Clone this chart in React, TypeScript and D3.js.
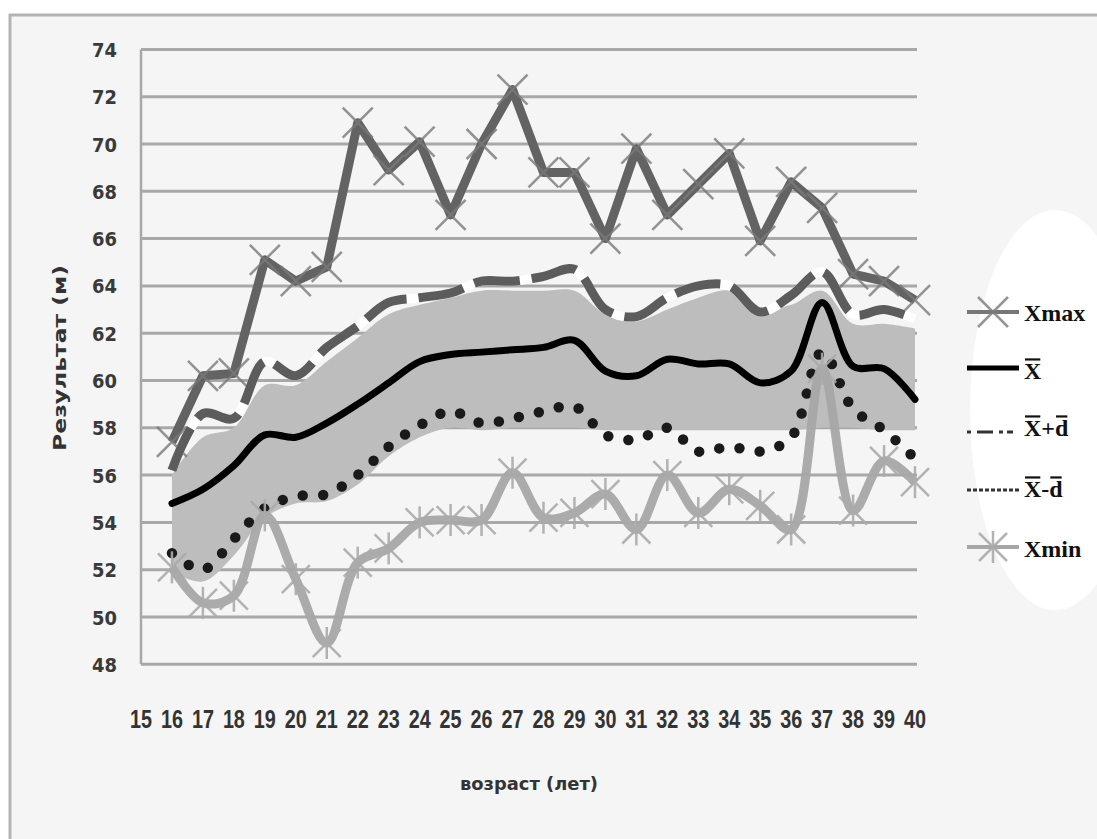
import React from "react";
import * as d3 from "d3";

const ages = [16, 17, 18, 19, 20, 21, 22, 23, 24, 25, 26, 27, 28, 29, 30, 31, 32, 33, 34, 35, 36, 37, 38, 39, 40];
const xTickLabels = [15, 16, 17, 18, 19, 20, 21, 22, 23, 24, 25, 26, 27, 28, 29, 30, 31, 32, 33, 34, 35, 36, 37, 38, 39, 40];
const yTickLabels = [48, 50, 52, 54, 56, 58, 60, 62, 64, 66, 68, 70, 72, 74];

const xMax = [57.4, 60.2, 60.3, 65.1, 64.2, 64.8, 70.9, 68.9, 70.1, 67.0, 70.0, 72.3, 68.8, 68.8, 66.0, 69.8, 67.0, 68.3, 69.6, 65.9, 68.4, 67.3, 64.5, 64.2, 63.4];
const xBar = [54.8, 55.4, 56.4, 57.7, 57.6, 58.2, 59.0, 59.9, 60.8, 61.1, 61.2, 61.3, 61.4, 61.7, 60.4, 60.2, 60.9, 60.7, 60.7, 59.9, 60.4, 63.3, 60.6, 60.5, 59.2];
const xPlusD = [56.2, 58.6, 58.4, 60.8, 60.2, 61.4, 62.3, 63.3, 63.5, 63.7, 64.2, 64.2, 64.4, 64.7, 63.0, 62.7, 63.5, 64.0, 64.0, 62.9, 63.6, 64.6, 62.8, 63.0, 62.6];
const xMinusD = [52.7, 52.0, 53.3, 54.6, 55.1, 55.2, 56.0, 57.2, 58.1, 58.7, 58.2, 58.4, 58.7, 58.9, 57.7, 57.5, 58.0, 57.0, 57.2, 57.0, 57.6, 61.2, 58.8, 57.9, 56.7];
const xMin = [52.1, 50.6, 50.9, 54.3, 51.6, 48.9, 52.3, 52.9, 54.0, 54.1, 54.1, 56.1, 54.2, 54.4, 55.2, 53.7, 56.0, 54.4, 55.4, 54.7, 53.7, 60.5, 54.5, 56.6, 55.7];
const bandTop = [56.0, 57.6, 58.0, 59.8, 59.8, 60.8, 61.8, 62.8, 63.2, 63.5, 63.8, 63.8, 63.8, 63.8, 62.8, 62.5, 63.0, 63.5, 63.8, 63.0, 63.2, 63.8, 62.4, 62.4, 62.2];
const bandBottom = [51.9, 51.5, 52.6, 54.2, 54.8, 54.9, 55.6, 56.8, 57.6, 58.0, 57.9, 58.0, 58.0, 58.0, 57.9, 57.9, 57.9, 57.9, 57.9, 57.9, 57.9, 58.0, 58.0, 57.9, 57.9];

const W = 1097;
const H = 839;

export default function App() {
  const x = d3.scaleLinear().domain([15, 40]).range([141, 915]);
  const y = d3.scaleLinear().domain([48, 74]).range([664.3, 49.4]);

  const smooth = d3.curveCatmullRom.alpha(0.5);
  const lineOf = (vals: number[], curve: d3.CurveFactory = smooth) =>
    d3
      .line<number>()
      .x((_, i) => x(ages[i]))
      .y((v) => y(v))
      .curve(curve)(vals) || "";

  const band =
    d3
      .area<number>()
      .x((_, i) => x(ages[i]))
      .y0((_, i) => y(bandBottom[i]))
      .y1((v) => y(v))
      .curve(smooth)(bandTop) || "";

  const sans = "'DejaVu Sans', Verdana, sans-serif";
  const lib = "'Liberation Sans', Arial, sans-serif";
  const serif = "'Liberation Serif', 'Times New Roman', serif";

  const xMarker = (cx: number, cy: number, k: string) => (
    <g key={k} stroke="#7a7a7a" strokeWidth={2.5} opacity={0.8}>
      <line x1={cx - 15} y1={cy - 15} x2={cx + 15} y2={cy + 15} />
      <line x1={cx - 15} y1={cy + 15} x2={cx + 15} y2={cy - 15} />
    </g>
  );
  const starMarker = (cx: number, cy: number, k: string) => (
    <g key={k} stroke="#ababab" strokeWidth={2.5} opacity={0.9}>
      <line x1={cx - 14} y1={cy - 14} x2={cx + 14} y2={cy + 14} />
      <line x1={cx - 14} y1={cy + 14} x2={cx + 14} y2={cy - 14} />
      <line x1={cx} y1={cy - 16} x2={cx} y2={cy + 16} />
    </g>
  );

  const legX1 = 967;
  const legX2 = 1019;
  const legText = 1024;
  const fs = 24;
  const wX = 0.722 * fs;
  const wPlus = 0.57 * fs;
  const wMinus = 0.333 * fs;
  const wd = 0.556 * fs;

  const overline = (x0: number, w: number, yb: number, k: string) => (
    <rect key={k} x={x0 + 1} y={yb - fs * 0.86} width={w - 2} height={2.2} fill="#111" />
  );

  return (
    <svg
      width={W}
      height={H}
      style={{ position: "absolute", left: 0, top: 0, background: "#ffffff" }}
    >
      <rect x={10} y={15} width={W - 10} height={H - 15} fill="#f5f5f5" />
      <line x1={9} y1={15} x2={W} y2={15} stroke="#b3b3b3" strokeWidth={3} />
      <line x1={10} y1={14} x2={10} y2={H} stroke="#b3b3b3" strokeWidth={3} />

      {/* legend white backdrop */}
      <ellipse cx={1055} cy={410} rx={85} ry={200} fill="#ffffff" />

      {/* gridlines */}
      {yTickLabels.map((v) => (
        <line
          key={"g" + v}
          x1={x(15)}
          x2={x(40) + 2}
          y1={y(v)}
          y2={y(v)}
          stroke="#a8a8a8"
          strokeWidth={3}
        />
      ))}
      <line x1={x(15)} x2={x(15)} y1={y(74)} y2={y(48)} stroke="#a8a8a8" strokeWidth={2.5} />

      {/* y tick labels */}
      {yTickLabels.map((v) => (
        <text
          key={"yl" + v}
          x={117}
          y={y(v) + 7.5}
          textAnchor="end"
          fontFamily={sans}
          fontSize={20}
          fontWeight="bold"
          fill="#3a3a3a"
          textLength={25}
          lengthAdjust="spacingAndGlyphs"
        >
          {v}
        </text>
      ))}

      {/* x tick labels */}
      {xTickLabels.map((v) => (
        <text
          key={"xl" + v}
          x={x(v) - 11}
          y={728}
          fontFamily={lib}
          fontSize={25}
          fontWeight="bold"
          fill="#333"
          textLength={22}
          lengthAdjust="spacingAndGlyphs"
        >
          {v}
        </text>
      ))}

      {/* axis titles */}
      <text
        transform="translate(66,358) rotate(-90)"
        textAnchor="middle"
        fontFamily={sans}
        fontSize={18}
        fontWeight="bold"
        fill="#333"
        textLength={186}
        lengthAdjust="spacingAndGlyphs"
      >
        Результат (м)
      </text>
      <text
        x={529}
        y={790}
        textAnchor="middle"
        fontFamily={sans}
        fontSize={18}
        fontWeight="bold"
        fill="#333"
        textLength={138}
        lengthAdjust="spacingAndGlyphs"
      >
        возраст (лет)
      </text>

      {/* band */}
      <path d={band} fill="#bdbdbd" />

      {/* Xmax */}
      <path d={lineOf(xMax, d3.curveLinear)} fill="none" stroke="#636363" strokeWidth={9} strokeLinejoin="round" />
      {xMax.map((v, i) => xMarker(x(ages[i]), y(v), "xm" + i))}

      {/* X + d */}
      <path d={lineOf(xPlusD)} fill="none" stroke="#ffffff" strokeWidth={9} />
      <path
        d={lineOf(xPlusD)}
        fill="none"
        stroke="#5c5c5c"
        strokeWidth={9}
        strokeDasharray="46 12"
      />

      {/* mean */}
      <path d={lineOf(xBar)} fill="none" stroke="#000" strokeWidth={7} strokeLinecap="round" />

      {/* X - d */}
      <path
        d={lineOf(xMinusD)}
        fill="none"
        stroke="#1a1a1a"
        strokeWidth={10.5}
        strokeLinecap="round"
        strokeDasharray="0 20.5"
      />

      {/* Xmin */}
      <path d={lineOf(xMin)} fill="none" stroke="#a6a6a6" strokeWidth={9} strokeLinejoin="round" opacity={0.95} />
      {xMin.map((v, i) => starMarker(x(ages[i]), y(v), "xn" + i))}

      {/* legend */}
      <g>
        <line x1={legX1} x2={legX2} y1={312} y2={312} stroke="#777" strokeWidth={4} />
        {xMarker((legX1 + legX2) / 2, 312, "lgx")}
        <text x={legText} y={321} fontFamily={serif} fontSize={fs} fontWeight="bold" fill="#111">
          Xmax
        </text>

        <line x1={legX1} x2={legX2} y1={368} y2={368} stroke="#000" strokeWidth={5} />
        <text x={legText} y={379} fontFamily={serif} fontSize={fs} fontWeight="bold" fill="#111">
          X
        </text>
        {overline(legText, wX, 379, "o1")}

        <line x1={legX1} x2={legX2} y1={432} y2={432} stroke="#333" strokeWidth={3} strokeDasharray="4 6 16 6 4" />
        <text x={legText} y={436} fontFamily={serif} fontSize={fs} fontWeight="bold" fill="#111">
          X+d
        </text>
        {overline(legText, wX, 436, "o2")}
        {overline(legText + wX + wPlus, wd, 436, "o3")}

        <line x1={legX1} x2={legX2} y1={490} y2={490} stroke="#333" strokeWidth={3} strokeDasharray="4 2" />
        <text x={legText} y={497} fontFamily={serif} fontSize={fs} fontWeight="bold" fill="#111">
          X-d
        </text>
        {overline(legText, wX, 497, "o4")}
        {overline(legText + wX + wMinus, wd, 497, "o5")}

        <line x1={legX1} x2={legX2} y1={547} y2={547} stroke="#a6a6a6" strokeWidth={4} />
        {starMarker((legX1 + legX2) / 2, 547, "lgn")}
        <text x={legText} y={557} fontFamily={serif} fontSize={fs} fontWeight="bold" fill="#111">
          Xmin
        </text>
      </g>
    </svg>
  );
}
